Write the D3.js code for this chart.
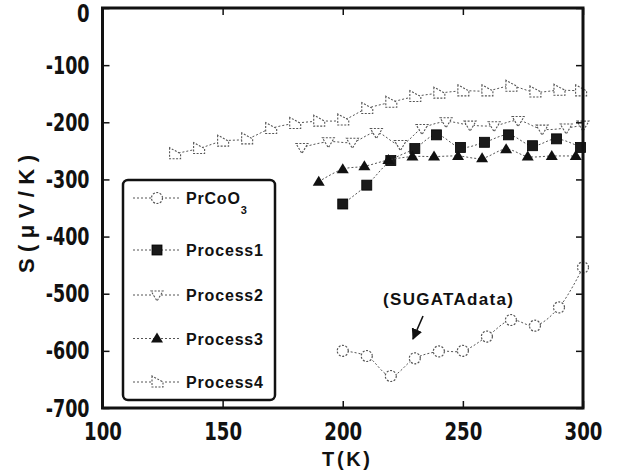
<!DOCTYPE html>
<html lang="en">
<head>
  <meta charset="UTF-8">
  <title>Seebeck coefficient vs temperature</title>
  <script src="https://d3js.org/d3.v7.min.js"></script>
  <style>
    body { margin: 0; background: #fff; }
    .tick-num { font-family: "DejaVu Sans", sans-serif; font-weight: bold; font-size: 25px; fill: #111; }
    .bold { font-family: "Liberation Sans", Arial, sans-serif; font-weight: bold; fill: #111; }
  </style>
</head>
<body>
  <svg width="619" height="472"></svg>

  <script>
    // values
    const xTicks = [100, 150, 200, 250, 300];
    const yTicks = [0, -100, -200, -300, -400, -500, -600, -700];

    const prTemp = [200, 210, 220, 230, 240, 250, 260, 270, 280, 290, 300];
    const prS    = [-600, -609, -644, -613, -601, -600, -575, -546, -556, -524, -454];

    const p1Temp = [200, 210, 220, 230, 239, 249, 259, 269, 279, 289, 299];
    const p1S    = [-343, -310, -267, -246, -222, -244, -235, -222, -241, -229, -244];

    const p2Temp = [183, 194, 204, 214, 224, 233, 243, 253, 263, 273, 283, 293, 300];
    const p2S    = [-244, -234, -235, -218, -239, -211, -199, -205, -206, -197, -212, -210, -205];

    const p3Temp = [190, 200, 209, 219, 229, 238, 248, 258, 268, 277, 287, 297];
    const p3S    = [-304, -282, -277, -266, -260, -260, -259, -263, -247, -260, -259, -259];

    const p4Temp = [130, 140, 150, 160, 170, 180, 190, 200, 210, 220, 230, 240, 250, 260, 270, 280, 290, 299];
    const p4S    = [-255, -246, -233, -229, -211, -202, -198, -196, -176, -165, -155, -149, -145, -145, -137, -147, -144, -145];

    const seriesNames = ["PrCoO3", "Process1", "Process2", "Process3", "Process4"];

    const series = [
      { name: seriesNames[0], t: prTemp, s: prS, sym: "circle" },
      { name: seriesNames[1], t: p1Temp, s: p1S, sym: "square" },
      { name: seriesNames[2], t: p2Temp, s: p2S, sym: "down" },
      { name: seriesNames[3], t: p3Temp, s: p3S, sym: "up" },
      { name: seriesNames[4], t: p4Temp, s: p4S, sym: "right" }
    ];

    const svg = d3.select("svg");
    const mLeft = 102.5, mRight = 583, mTop = 8, mBottom = 408;

    const x = d3.scaleLinear().domain([100, 300]).range([mLeft, mRight]);
    const y = d3.scaleLinear().domain([-700, 0]).range([mBottom, mTop]);

    // symbol drawing
    function drawSymbol(g, sym, cx, cy) {
      if (sym === "circle") {
        g.append("circle").attr("cx", cx).attr("cy", cy).attr("r", 5.5)
          .attr("fill", "#fff").attr("stroke", "#555").attr("stroke-width", 1.2)
          .attr("stroke-dasharray", "2,1.5");
      } else if (sym === "square") {
        g.append("rect").attr("x", cx - 5).attr("y", cy - 5).attr("width", 10).attr("height", 10)
          .attr("fill", "#1a1a1a").attr("stroke", "#000").attr("stroke-width", 0.8);
      } else if (sym === "down") {
        g.append("path").attr("d", `M${cx - 6},${cy - 4}L${cx + 6},${cy - 4}L${cx},${cy + 6}Z`)
          .attr("fill", "#fff").attr("stroke", "#555").attr("stroke-width", 1.1)
          .attr("stroke-dasharray", "2,1.5");
      } else if (sym === "up") {
        g.append("path").attr("d", `M${cx - 6},${cy + 4}L${cx + 6},${cy + 4}L${cx},${cy - 6}Z`)
          .attr("fill", "#111");
      } else {
        g.append("path").attr("d", `M${cx - 5},${cy - 6}L${cx - 5},${cy + 5}L${cx + 6},${cy + 5}L${cx + 6},${cy}Z`)
          .attr("fill", "#fff").attr("stroke", "#555").attr("stroke-width", 1.1)
          .attr("stroke-dasharray", "2,1.5");
      }
    }

    const line = d3.line()
      .x(d => x(d[0]))
      .y(d => y(d[1]))
      .curve(d3.curveCatmullRom.alpha(0.5));

    const plot = svg.append("g");

    series.forEach(sr => {
      const pts = sr.t.map((t, i) => [t, sr.s[i]]);
      plot.append("path")
        .attr("d", line(pts))
        .attr("fill", "none")
        .attr("stroke", "#555")
        .attr("stroke-width", 1)
        .attr("stroke-dasharray", "2,2");
      const mg = plot.append("g");
      pts.forEach(p => drawSymbol(mg, sr.sym, x(p[0]), y(p[1])));
    });

    // axes (ticks point inward), plain hyphen for negatives
    const fmt = d => String(d);
    const axB = svg.append("g").attr("transform", `translate(0,${mBottom})`)
      .call(d3.axisBottom(x).tickValues(xTicks).tickSize(-7).tickPadding(14).tickFormat(fmt));
    const axL = svg.append("g").attr("transform", `translate(${mLeft},0)`)
      .call(d3.axisLeft(y).tickValues(yTicks).tickSize(-7).tickPadding(13).tickFormat(fmt));
    svg.append("g").attr("transform", `translate(0,${mTop})`)
      .call(d3.axisTop(x).tickValues(xTicks).tickSize(-7).tickFormat(""));
    svg.append("g").attr("transform", `translate(${mRight},0)`)
      .call(d3.axisRight(y).tickValues(yTicks).tickSize(-7).tickFormat(""));

    svg.selectAll(".domain").remove();
    svg.selectAll(".tick line").attr("stroke", "#111").attr("stroke-width", 1.5);
    // squeeze the digits into the narrow, heavy look of the scan
    [axB, axL].forEach(a => a.selectAll("text")
      .attr("class", "tick-num").attr("font-family", null).attr("font-size", null)
      .attr("lengthAdjust", "spacingAndGlyphs")
      .attr("textLength", d => {
        const s = String(d);
        return s.replace("-", "").length * 12.6 + (s.startsWith("-") ? 6 : 0);
      }));
    axL.selectAll(".tick").filter(d => d === 0).select("text").attr("dy", "0.52em");

    // frame
    svg.append("rect")
      .attr("x", mLeft).attr("y", mTop)
      .attr("width", mRight - mLeft).attr("height", mBottom - mTop)
      .attr("fill", "none").attr("stroke", "#111").attr("stroke-width", 3);

    // axis titles
    svg.append("text").attr("class", "bold")
      .attr("x", 346).attr("y", 466)
      .attr("text-anchor", "middle").attr("font-size", 20)
      .attr("textLength", 48).attr("lengthAdjust", "spacing")
      .text("T(K)");

    svg.append("text").attr("class", "bold")
      .attr("transform", "translate(34,214) rotate(-90)")
      .attr("text-anchor", "middle").attr("font-size", 22)
      .attr("textLength", 118).attr("lengthAdjust", "spacing")
      .text("S(\u03bcV/K)");

    // legend
    const lg = svg.append("g");
    lg.append("rect")
      .attr("x", 123).attr("y", 180).attr("width", 152).attr("height", 220)
      .attr("rx", 5).attr("fill", "#fff").attr("stroke", "#111").attr("stroke-width", 2.5);

    const legendY = [198, 250, 295, 338.5, 382];
    series.forEach((sr, i) => {
      const ly = legendY[i];
      lg.append("line").attr("x1", 133).attr("x2", 180).attr("y1", ly).attr("y2", ly)
        .attr("stroke", "#555").attr("stroke-width", 1).attr("stroke-dasharray", "2,2");
      drawSymbol(lg, sr.sym, 157, ly);
      const t = lg.append("text").attr("class", "bold")
        .attr("x", 186).attr("y", ly + 6).attr("font-size", 16);
      if (i === 0) {
        t.append("tspan").text("PrCoO").attr("letter-spacing", 0.8);
        t.append("tspan").attr("font-size", 11).attr("dy", 10).text("3");
      } else {
        t.attr("textLength", 77).attr("lengthAdjust", "spacing").text(sr.name);
      }
    });

    // annotation
    svg.append("text").attr("class", "bold")
      .attr("x", 383).attr("y", 305).attr("font-size", 17)
      .attr("textLength", 130).attr("lengthAdjust", "spacing")
      .text("(SUGATAdata)");

    svg.append("defs").append("marker")
      .attr("id", "ah").attr("viewBox", "0 0 10 10").attr("refX", 9).attr("refY", 5)
      .attr("markerWidth", 7).attr("markerHeight", 7).attr("orient", "auto")
      .append("path").attr("d", "M0,0L10,5L0,10Z").attr("fill", "#111");
    svg.append("line")
      .attr("x1", 423).attr("y1", 316).attr("x2", 413).attr("y2", 339)
      .attr("stroke", "#111").attr("stroke-width", 1.6).attr("marker-end", "url(#ah)");
  </script>
</body>
</html>
